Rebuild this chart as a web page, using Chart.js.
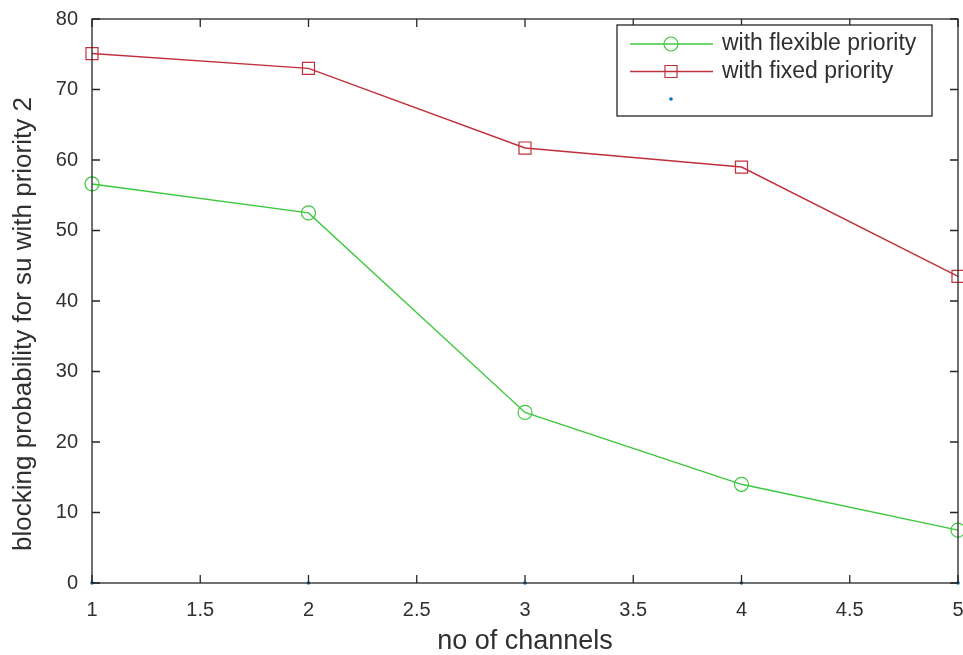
<!DOCTYPE html>
<html>
<head>
<meta charset="utf-8">
<script src="https://cdn.jsdelivr.net/npm/chart.js@4.4.1/dist/chart.umd.min.js"></script>
<style>
    html, body { margin: 0; padding: 0; background: #fff; }
    #chart { display: block; }
</style>
</head>
<body>
<canvas id="chart" width="963" height="655"></canvas>
<script>
const channels = [1, 2, 3, 4, 5];
const flexiblePriority = [56.6, 52.5, 24.2, 14.0, 7.5];
const fixedPriority = [75.1, 73.0, 61.7, 59.0, 43.5];
const zeroDots = [0, 0, 0, 0, 0];
const seriesNames = ['with flexible priority', 'with fixed priority', ''];
const xTicks = [1, 1.5, 2, 2.5, 3, 3.5, 4, 4.5, 5];
const yTicks = [0, 10, 20, 30, 40, 50, 60, 70, 80];
const xTitle = 'no of channels';
const yTitle = 'blocking probability for su with priority 2';

const axisColor = '#262626';
const textColor = '#303030';
const fontFamily = '"Liberation Sans", Arial, sans-serif';

const toPoints = (values) => channels.map((c, i) => ({ x: c, y: values[i] }));

// closed axes box with inward ticks on all four sides
const boxPlugin = {
    id: 'axesBox',
    afterDraw(chart) {
        const { ctx, chartArea: a, scales } = chart;
        const tick = 8;
        ctx.save();
        ctx.strokeStyle = axisColor;
        ctx.lineWidth = 1.3;
        ctx.strokeRect(a.left, a.top, a.right - a.left, a.bottom - a.top);
        ctx.beginPath();
        scales.x.ticks.forEach((t) => {
            const px = scales.x.getPixelForValue(t.value);
            ctx.moveTo(px, a.bottom);
            ctx.lineTo(px, a.bottom - tick);
            ctx.moveTo(px, a.top);
            ctx.lineTo(px, a.top + tick);
        });
        scales.y.ticks.forEach((t) => {
            const py = scales.y.getPixelForValue(t.value);
            ctx.moveTo(a.left, py);
            ctx.lineTo(a.left + tick, py);
            ctx.moveTo(a.right, py);
            ctx.lineTo(a.right - tick, py);
        });
        ctx.stroke();

        // y axis title, placed by hand like the original figure
        ctx.fillStyle = textColor;
        ctx.font = `26px ${fontFamily}`;
        ctx.textAlign = 'center';
        ctx.textBaseline = 'middle';
        ctx.translate(24, (a.top + a.bottom) / 2 + 23);
        ctx.rotate(-Math.PI / 2);
        ctx.fillText(yTitle, 0, 0);
        ctx.restore();
    },
};

// boxed legend: line sample with marker, then the name
const legendPlugin = {
    id: 'boxedLegend',
    afterDraw(chart) {
        const { ctx, chartArea: a } = chart;
        const w = 315;
        const h = 91;
        const left = a.right - 26 - w;
        const top = a.top + 6;
        ctx.save();
        ctx.fillStyle = '#ffffff';
        ctx.fillRect(left, top, w, h);
        ctx.strokeStyle = axisColor;
        ctx.lineWidth = 1.3;
        ctx.strokeRect(left, top, w, h);

        chart.data.datasets.forEach((ds, i) => {
            const y = top + 19 + i * 27.5;
            const mid = left + 54;
            if (ds.showLine !== false) {
                ctx.strokeStyle = ds.borderColor;
                ctx.lineWidth = ds.borderWidth;
                ctx.beginPath();
                ctx.moveTo(left + 13, y);
                ctx.lineTo(left + 96, y);
                ctx.stroke();
            }
            ctx.fillStyle = ds.pointBackgroundColor;
            ctx.strokeStyle = ds.pointBorderColor;
            ctx.lineWidth = ds.pointBorderWidth;
            Chart.helpers.drawPoint(ctx, {
                pointStyle: ds.pointStyle,
                rotation: 0,
                radius: ds.pointRadius,
                borderWidth: ds.pointBorderWidth,
            }, mid, y);
            ctx.fillStyle = textColor;
            ctx.font = `23px ${fontFamily}`;
            ctx.textAlign = 'left';
            ctx.textBaseline = 'middle';
            ctx.fillText(ds.label, left + 105, y);
        });
        ctx.restore();
    },
};

const ctx = document.getElementById('chart').getContext('2d');

new Chart(ctx, {
    type: 'line',
    data: {
        datasets: [
            {
                label: seriesNames[0],
                data: toPoints(flexiblePriority),
                borderColor: '#3cc83c',
                borderWidth: 1.4,
                pointStyle: 'circle',
                pointRadius: 7,
                pointBorderWidth: 1.2,
                pointBorderColor: '#3cc83c',
                pointBackgroundColor: 'rgba(0,0,0,0)',
                clip: false,
            },
            {
                label: seriesNames[1],
                data: toPoints(fixedPriority),
                borderColor: '#c0303a',
                borderWidth: 1.4,
                pointStyle: 'rect',
                pointRadius: 8.5,
                pointBorderWidth: 1.2,
                pointBorderColor: '#c0303a',
                pointBackgroundColor: 'rgba(0,0,0,0)',
                clip: false,
            },
            {
                label: seriesNames[2],
                data: toPoints(zeroDots),
                showLine: false,
                borderColor: '#0072bd',
                borderWidth: 0,
                pointStyle: 'circle',
                pointRadius: 1.8,
                pointBorderWidth: 0,
                pointBorderColor: '#0072bd',
                pointBackgroundColor: '#0072bd',
                clip: false,
            },
        ],
    },
    options: {
        responsive: false,
        animation: false,
        devicePixelRatio: 1,
        layout: {
            autoPadding: false,
            padding: { top: 19, right: 5, left: 0, bottom: 0 },
        },
        plugins: {
            legend: { display: false },
            tooltip: { enabled: false },
        },
        elements: {
            line: { tension: 0 },
        },
        scales: {
            x: {
                type: 'linear',
                min: 1,
                max: 5,
                afterBuildTicks: (scale) => {
                    scale.ticks = xTicks.map((v) => ({ value: v }));
                },
                afterFit: (scale) => {
                    scale.height = 72;
                    scale.paddingLeft = 0;
                    scale.paddingRight = 0;
                },
                grid: { display: false, drawTicks: false },
                border: { display: false },
                ticks: {
                    padding: 15,
                    color: textColor,
                    maxRotation: 0,
                    autoSkip: false,
                    font: { family: fontFamily, size: 20 },
                    callback: (value) => String(value),
                },
                title: {
                    display: true,
                    text: xTitle,
                    color: textColor,
                    padding: 0,
                    font: { family: fontFamily, size: 27, lineHeight: 1 },
                },
            },
            y: {
                type: 'linear',
                min: 0,
                max: 80,
                afterBuildTicks: (scale) => {
                    scale.ticks = yTicks.map((v) => ({ value: v }));
                },
                afterFit: (scale) => {
                    scale.width = 92;
                    scale.paddingTop = 0;
                    scale.paddingBottom = 0;
                },
                grid: { display: false, drawTicks: false },
                border: { display: false },
                ticks: {
                    padding: 14,
                    color: textColor,
                    autoSkip: false,
                    font: { family: fontFamily, size: 20 },
                    callback: (value) => String(value),
                },
            },
        },
    },
    plugins: [boxPlugin, legendPlugin],
});
</script>
</body>
</html>
